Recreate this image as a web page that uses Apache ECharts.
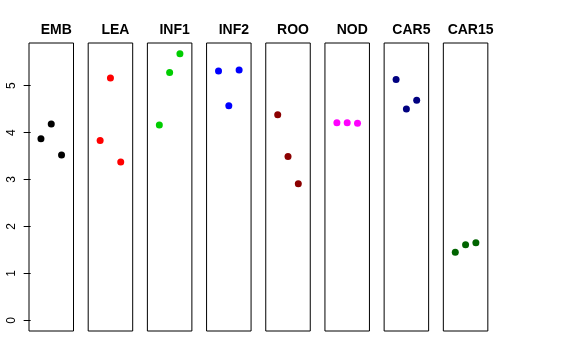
<!DOCTYPE html>
<html>
<head>
<meta charset="utf-8">
<script src="https://cdn.jsdelivr.net/npm/echarts@6/dist/echarts.min.js"></script>
<style>html,body{margin:0;padding:0;background:#fff;}#c{width:576px;height:360px;}</style>
</head>
<body>
<div id="c"></div>
<script>
// Data
const panels = ['EMB', 'LEA', 'INF1', 'INF2', 'ROO', 'NOD', 'CAR5', 'CAR15'];
const xPositions = [1, 2, 3];
const valEMB = [3.87, 4.18, 3.52];
const valLEA = [3.83, 5.16, 3.37];
const valINF1 = [4.16, 5.28, 5.68];
const valINF2 = [5.31, 4.57, 5.33];
const valROO = [4.38, 3.49, 2.91];
const valNOD = [4.21, 4.21, 4.20];
const valCAR5 = [5.13, 4.50, 4.69];
const valCAR15 = [1.45, 1.61, 1.65];
const yTicks = [0, 1, 2, 3, 4, 5];

const values = [valEMB, valLEA, valINF1, valINF2, valROO, valNOD, valCAR5, valCAR15];
const colors = ['#000000', '#FF0000', '#00CD00', '#0000FF', '#8B0000', '#FF00FF', '#000080', '#006400'];

(function () {
  const yMin = -0.2272, yMax = 5.9072;
  const xMin = -0.16, xMax = 4.16;
  const left0 = 29, step = 59.19, w = 44.5, gTop = 43, gH = 288;

  const grid = [], xAxis = [], yAxis = [], series = [], title = [];
  panels.forEach((p, i) => {
    const l = left0 + i * step;
    grid.push({left: l, top: gTop, width: w, height: gH, show: true, borderColor: '#000', borderWidth: 1, backgroundColor: 'transparent'});
    xAxis.push({gridIndex: i, type: 'value', min: xMin, max: xMax, show: false});
    yAxis.push({
      gridIndex: i, type: 'value', min: yMin, max: yMax,
      show: i === 0,
      splitLine: {show: false},
      axisLine: {show: false},
      axisTick: {show: true, length: 7, lineStyle: {color: '#000'}, customValues: yTicks},
      axisLabel: {show: true, rotate: 90, margin: 11, fontSize: 12, color: '#000', fontFamily: 'Liberation Sans, Arial, sans-serif', customValues: yTicks}
    });
    title.push({
      text: p, left: l + w / 2, top: 18, textAlign: 'center',
      textStyle: {fontSize: 14, fontWeight: 'bold', color: '#000', fontFamily: 'Liberation Sans, Arial, sans-serif'}
    });
    series.push({
      type: 'scatter', xAxisIndex: i, yAxisIndex: i,
      symbol: 'circle', symbolSize: 7,
      itemStyle: {color: colors[i], opacity: 1},
      silent: true,
      data: xPositions.map((x, k) => [x, values[i][k]])
    });
  });

  const chart = echarts.init(document.getElementById('c'), null, {renderer: 'canvas'});
  chart.setOption({animation: false, backgroundColor: '#fff', title, grid, xAxis, yAxis, series});
})();
</script>
</body>
</html>
